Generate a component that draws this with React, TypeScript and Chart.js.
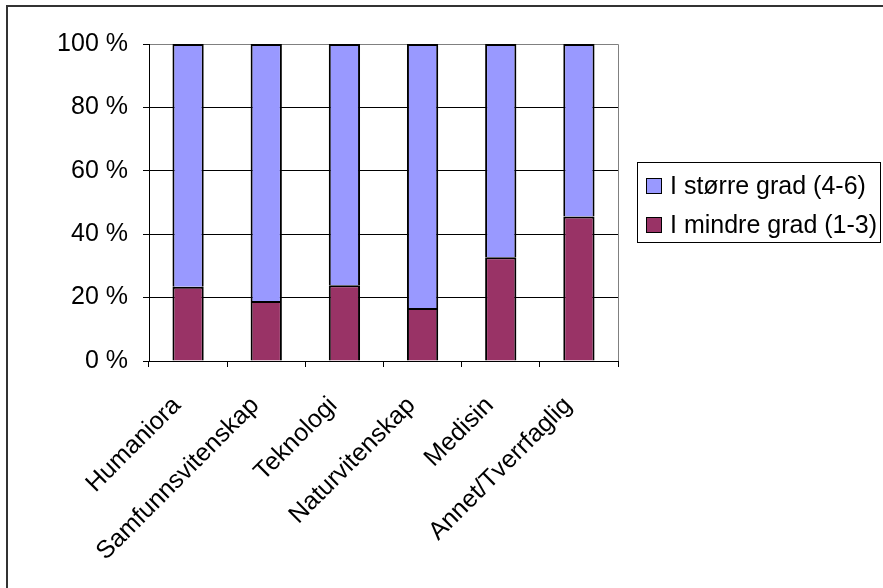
import React, { useEffect, useRef } from "react";
import { Chart, registerables } from "chart.js";

Chart.register(...registerables);

const categories = [
  "Humaniora",
  "Samfunnsvitenskap",
  "Teknologi",
  "Naturvitenskap",
  "Medisin",
  "Annet/Tverrfaglig",
];
const lowerDegree = [23.4, 18.9, 23.9, 16.7, 32.7, 45.6];
const higherDegree = [76.6, 81.1, 76.1, 83.3, 67.3, 54.4];
const lowerLabel = "I mindre grad (1-3)";
const higherLabel = "I større grad (4-6)";
const yMin = 0;
const yMax = 100;
const yStep = 20;

const FAMILY = '"Liberation Sans", Arial, sans-serif';
const FONT_SIZE = 25;
const BLUE = "#9999FF";
const MAROON = "#993366";

const framePlugin = {
  id: "frame",
  beforeDatasetsDraw(chart: any) {
    const { ctx, chartArea } = chart;
    ctx.save();
    ctx.strokeStyle = "#808080";
    ctx.lineWidth = 1;
    ctx.beginPath();
    const top = Math.round(chartArea.top) + 0.5;
    const right = Math.round(chartArea.right) + 0.5;
    ctx.moveTo(Math.round(chartArea.left) + 1, top);
    ctx.lineTo(right, top);
    ctx.lineTo(right, Math.round(chartArea.bottom));
    ctx.stroke();
    ctx.restore();
  },
  afterDraw(chart: any) {
    const { ctx } = chart;
    ctx.save();
    // outer chart frame
    ctx.strokeStyle = "#333333";
    ctx.lineWidth = 2;
    ctx.beginPath();
    ctx.moveTo(7, 600);
    ctx.lineTo(7, 6);
    ctx.lineTo(900, 6);
    ctx.stroke();

    // legend box
    ctx.strokeStyle = "#000";
    ctx.lineWidth = 1;
    ctx.strokeRect(637.5, 162.5, 243, 80);

    const items = [...chart.data.datasets].reverse();
    ctx.font = `${FONT_SIZE}px ${FAMILY}`;
    ctx.textBaseline = "middle";
    ctx.textAlign = "left";
    items.forEach((ds: any, i: number) => {
      const cy = 186 + i * 39;
      ctx.fillStyle = ds.backgroundColor;
      ctx.fillRect(646, cy - 8, 16, 16);
      ctx.strokeStyle = "#000";
      ctx.strokeRect(646.5, cy - 7.5, 15, 15);
      ctx.fillStyle = "#000";
      ctx.fillText(ds.label, 670, cy + 1);
    });
    ctx.restore();
  },
};

export default function App() {
  const ref = useRef<HTMLCanvasElement | null>(null);

  useEffect(() => {
    if (!ref.current) return;
    const chart = new Chart(ref.current, {
      type: "bar",
      data: {
        labels: categories,
        datasets: [
          {
            label: lowerLabel,
            data: lowerDegree,
            backgroundColor: MAROON,
            borderColor: "#000",
            borderWidth: 2,
          },
          {
            label: higherLabel,
            data: higherDegree,
            backgroundColor: BLUE,
            borderColor: "#000",
            borderWidth: 2,
          },
        ],
      },
      options: {
        responsive: false,
        animation: false,
        devicePixelRatio: 1,
        categoryPercentage: 1,
        barPercentage: 0.4,
        layout: { padding: { left: 0, top: 44, right: 265, bottom: 0 } },
        plugins: {
          legend: { display: false },
          tooltip: { enabled: false },
        },
        scales: {
          x: {
            stacked: true,
            offset: true,
            grid: {
              offset: true,
              drawOnChartArea: false,
              tickLength: 6,
              color: "#000",
            },
            border: { color: "#000" },
            ticks: {
              minRotation: 45,
              maxRotation: 45,
              autoSkip: false,
              color: "#000",
              font: { family: FAMILY, size: FONT_SIZE },
              padding: 24,
              labelOffset: -11,
            },
            afterFit: (s: any) => {
              s.height = 227;
            },
          },
          y: {
            stacked: true,
            min: yMin,
            max: yMax,
            ticks: {
              stepSize: yStep,
              color: "#000",
              font: { family: FAMILY, size: FONT_SIZE },
              padding: 15,
              callback: (v: any) => `${v} %`,
            },
            grid: { color: "#000", tickLength: 6 },
            border: { color: "#000" },
            afterFit: (s: any) => {
              s.width = 149;
            },
          },
        },
      },
      plugins: [framePlugin],
    });
    return () => chart.destroy();
  }, []);

  return (
    <div style={{ position: "absolute", left: 0, top: 0, width: 883, height: 588, background: "#fff" }}>
      <canvas ref={ref} width={883} height={588} style={{ display: "block" }} />
    </div>
  );
}
